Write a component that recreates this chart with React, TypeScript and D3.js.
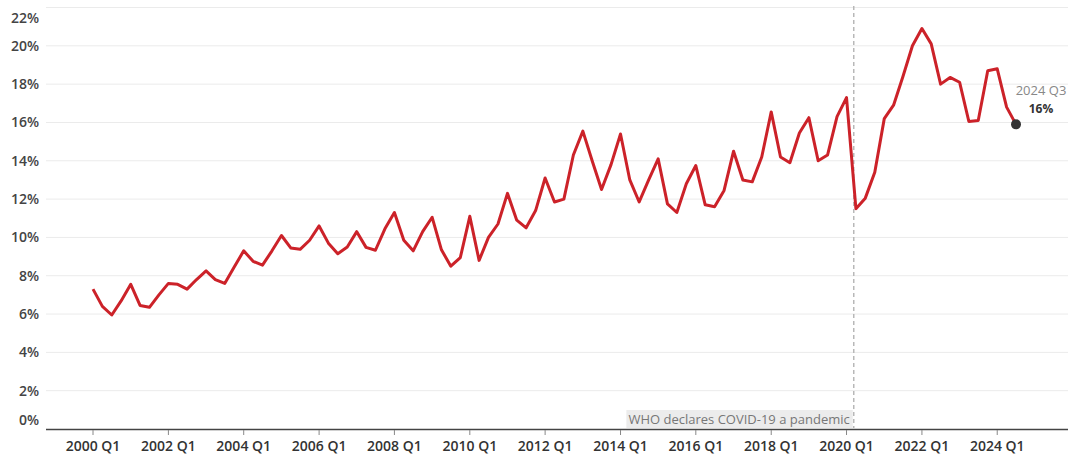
import React, { useEffect, useRef } from 'react';
import * as d3 from 'd3';

const years = [2000, 2001, 2002, 2003, 2004, 2005, 2006, 2007, 2008, 2009, 2010, 2011, 2012,
  2013, 2014, 2015, 2016, 2017, 2018, 2019, 2020, 2021, 2022, 2023, 2024];
const quarterNames = ['Q1', 'Q2', 'Q3', 'Q4'];

// share, in percent, one value per quarter from 2000 Q1 to 2024 Q3
const values = [
  7.3, 6.4, 5.95, 6.7,
  7.55, 6.45, 6.35, 7.0,
  7.6, 7.55, 7.3, 7.8,
  8.25, 7.8, 7.6, 8.45,
  9.3, 8.75, 8.55, 9.3,
  10.1, 9.45, 9.38, 9.85,
  10.6, 9.7, 9.15, 9.5,
  10.3, 9.48, 9.33, 10.45,
  11.3, 9.85, 9.3, 10.3,
  11.05, 9.35, 8.5, 8.95,
  11.1, 8.8, 10.0, 10.7,
  12.3, 10.9, 10.5, 11.4,
  13.1, 11.85, 12.0, 14.3,
  15.55, 14.0, 12.5, 13.8,
  15.4, 13.0, 11.85, 13.0,
  14.1, 11.75, 11.3, 12.8,
  13.75, 11.7, 11.6, 12.45,
  14.5, 13.0, 12.9, 14.2,
  16.55, 14.2, 13.9, 15.45,
  16.25, 14.0, 14.3, 16.3,
  17.3, 11.5, 12.05, 13.4,
  16.2, 16.9, 18.4, 20.0,
  20.9, 20.1, 18.0, 18.35,
  18.1, 16.05, 16.1, 18.7,
  18.8, 16.8, 15.9,
];

const yTicks = [0, 2, 4, 6, 8, 10, 12, 14, 16, 18, 20, 22];
const xTickYears = [2000, 2002, 2004, 2006, 2008, 2010, 2012, 2014, 2016, 2018, 2020, 2022, 2024];
const eventDate = new Date(2020, 2, 11);
const eventLabel = 'WHO declares COVID-19 a pandemic';

const W = 1068;
const H = 457;

function App() {
  const ref = useRef<SVGSVGElement>(null);

  useEffect(() => {
    const svg = d3.select(ref.current);
    svg.selectAll('*').remove();

    const points = values.map((v, i) => ({
      date: new Date(years[Math.floor(i / 4)], (i % 4) * 3, 1),
      label: `${years[Math.floor(i / 4)]} ${quarterNames[i % 4]}`,
      value: v,
    }));

    const left = 46;
    const right = W;
    const x = d3.scaleTime()
      .domain([new Date(2000, 0, 1), new Date(2024, 6, 1)])
      .range([93, 1016]);
    const y = d3.scaleLinear().domain([0, 22]).range([429, 7.5]);

    const font = "'Open Sans', sans-serif";

    // gridlines
    svg.append('g')
      .selectAll('line')
      .data(yTicks.filter(d => d > 0))
      .enter()
      .append('line')
      .attr('x1', left)
      .attr('x2', right)
      .attr('y1', d => y(d))
      .attr('y2', d => y(d))
      .attr('stroke', '#ebebeb')
      .attr('stroke-width', 1);

    // y labels (end labels pulled inside the plot like the original)
    svg.append('g')
      .selectAll('text')
      .data(yTicks)
      .enter()
      .append('text')
      .attr('x', 39)
      .attr('y', d => Math.min(Math.max(y(d), 18), 420))
      .attr('dy', '0.35em')
      .attr('text-anchor', 'end')
      .attr('font-family', font)
      .attr('font-weight', 600)
      .attr('font-size', 14)
      .attr('fill', '#444')
      .text(d => `${d}%`);

    // event marker
    const ex = x(eventDate);
    svg.append('line')
      .attr('x1', ex)
      .attr('x2', ex)
      .attr('y1', 6)
      .attr('y2', 428)
      .attr('stroke', '#b8b8b8')
      .attr('stroke-width', 1.5)
      .attr('stroke-dasharray', '4,3');

    const ev = svg.append('g');
    const evRect = ev.append('rect').attr('fill', '#ececec');
    const evText = ev.append('text')
      .attr('x', ex - 4)
      .attr('y', 424)
      .attr('text-anchor', 'end')
      .attr('font-family', font)
      .attr('font-size', 13)
      .attr('fill', '#777')
      .text(eventLabel);
    const bb = (evText.node() as SVGTextElement).getBBox();
    evRect
      .attr('x', bb.x - 2)
      .attr('y', 410)
      .attr('width', ex - bb.x + 1)
      .attr('height', 18);

    // x axis
    svg.append('line')
      .attr('x1', left)
      .attr('x2', right)
      .attr('y1', 429.5)
      .attr('y2', 429.5)
      .attr('stroke', '#444')
      .attr('stroke-width', 1.5);

    const xt = svg.append('g')
      .selectAll('g')
      .data(xTickYears)
      .enter()
      .append('g')
      .attr('transform', d => `translate(${x(new Date(d, 0, 1))},0)`);
    xt.append('line')
      .attr('y1', 430)
      .attr('y2', 435)
      .attr('stroke', '#888');
    xt.append('text')
      .attr('y', 451)
      .attr('text-anchor', 'middle')
      .attr('font-family', font)
      .attr('font-weight', 600)
      .attr('font-size', 14)
      .attr('fill', '#333')
      .text(d => `${d} Q1`);

    // series line
    const line = d3.line<{ date: Date; value: number }>()
      .x(d => x(d.date))
      .y(d => y(d.value));
    svg.append('path')
      .datum(points)
      .attr('d', line)
      .attr('fill', 'none')
      .attr('stroke', '#cc2229')
      .attr('stroke-width', 3)
      .attr('stroke-linejoin', 'round');

    // last point marker
    const last = points[points.length - 1];
    svg.append('circle')
      .attr('cx', x(last.date))
      .attr('cy', y(last.value))
      .attr('r', 5)
      .attr('fill', '#333');
    svg.append('text')
      .attr('x', 1041)
      .attr('y', 95)
      .attr('text-anchor', 'middle')
      .attr('font-family', font)
      .attr('font-size', 13)
      .attr('fill', '#888')
      .text(last.label);
    svg.append('text')
      .attr('x', 1041)
      .attr('y', 113)
      .attr('text-anchor', 'middle')
      .attr('font-family', font)
      .attr('font-weight', 700)
      .attr('font-size', 12)
      .attr('fill', '#333')
      .text(`${Math.round(last.value)}%`);
  }, []);

  return (
    <svg ref={ref} width={W} height={H}
      style={{ position: 'absolute', left: 0, top: 0, background: '#fff' }} />
  );
}

export default App;
